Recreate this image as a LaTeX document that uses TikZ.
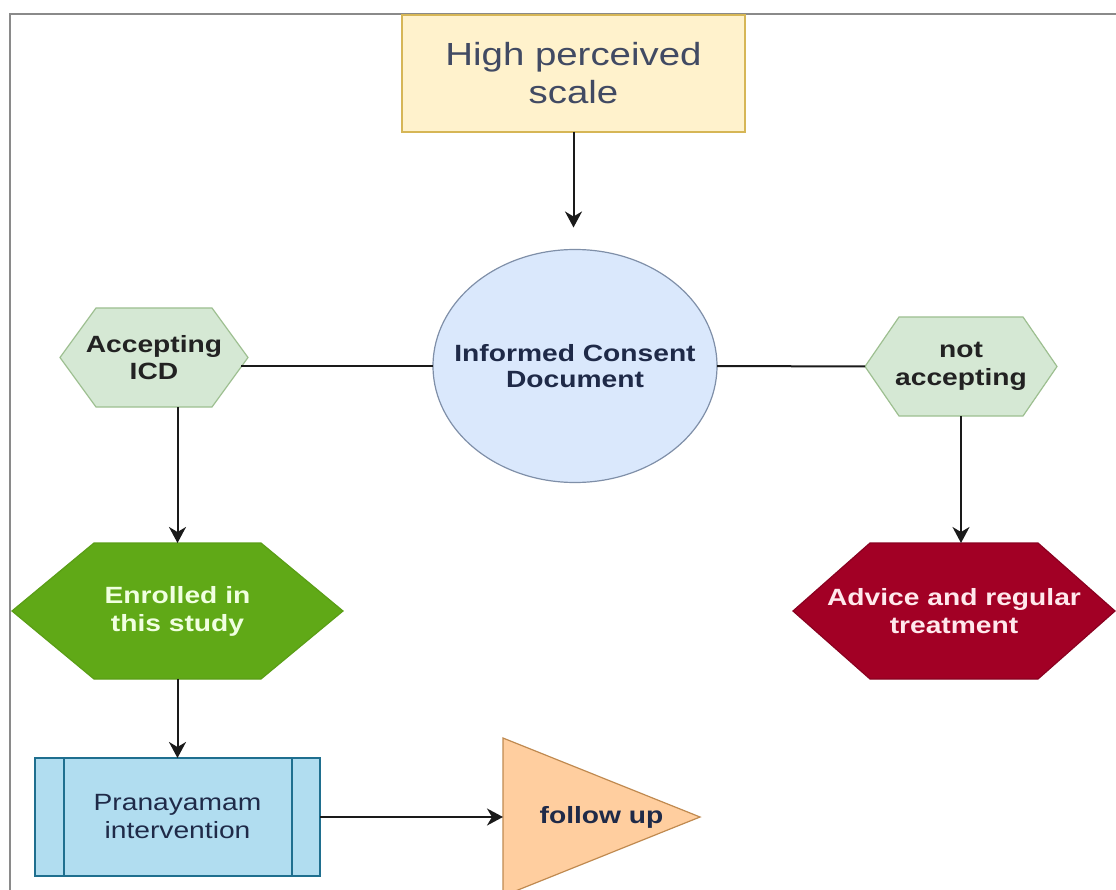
\documentclass[tikz,border=0pt]{standalone}
\usepackage{fontspec}
\setmainfont{Liberation Sans}[FakeStretch=1.2]
\usetikzlibrary{shapes.geometric,arrows.meta,backgrounds,calc}
\definecolor{framec}{HTML}{8A8A8A}
\definecolor{yelfill}{HTML}{FFF2CC}
\definecolor{yeldraw}{HTML}{D6B656}
\definecolor{bluefill}{HTML}{DAE8FC}
\definecolor{bluedraw}{HTML}{7F8FA8}
\definecolor{lgfill}{HTML}{D5E8D4}
\definecolor{lgdraw}{HTML}{9DBF90}
\definecolor{gfill}{HTML}{60A917}
\definecolor{gdraw}{HTML}{5A9E16}
\definecolor{gtext}{HTML}{F0FFE0}
\definecolor{rfill}{HTML}{A20025}
\definecolor{rdraw}{HTML}{8A0020}
\definecolor{rtext}{HTML}{FFE8EC}
\definecolor{pfill}{HTML}{B1DDF0}
\definecolor{pdraw}{HTML}{1F6F8F}
\definecolor{ofill}{HTML}{FFCE9F}
\definecolor{odraw}{HTML}{C08A50}
\definecolor{txtnavy}{HTML}{1F2A48}
\definecolor{txtdark}{HTML}{222222}
\definecolor{arrowc}{HTML}{1A1A1A}
\tikzset{
  box/.style={inner sep=0pt, outer sep=0pt, align=center,
    font=\fontsize{23.5}{27.5}\selectfont, text=txtnavy},
  arr/.style={line width=2pt, draw=arrowc,
    -{Stealth[length=16pt,width=17pt,inset=5pt]}},
  link/.style={line width=2pt, draw=arrowc},
  shapeline/.style={line width=1.2pt},
}
\newcommand\myhex[3]{%
  \path[#3] (#1.west) -- ([xshift=#2]#1.north west) -- ([xshift=-#2]#1.north east)
    -- (#1.east) -- ([xshift=-#2]#1.south east) -- ([xshift=#2]#1.south west) -- cycle;}
\begin{document}
\begin{tikzpicture}[x=1pt,y=-1pt]
\useasboundingbox (0,0) rectangle (1116,890);
\clip (0,0) rectangle (1116,890);
% frame
\draw[framec, line width=2pt] (10,890) -- (10,14) -- (1116,14);

% nodes
\node[box, draw=yeldraw, fill=yelfill, shapeline, minimum width=343pt, minimum height=117pt,
  font=\fontsize{32}{38}\selectfont, text=txtnavy!85!white] (top) at (573.5,73.5)
  {High perceived\\scale};
\node[box, minimum width=284pt, minimum height=233pt,
  font=\fontsize{23.5}{25.5}\selectfont\bfseries] (ice) at (575,366)
  {Informed Consent\\Document};
\node[box, minimum width=188pt, minimum height=99pt, font=\fontsize{23.5}{27.5}\selectfont\bfseries,
  text=txtdark] (icd) at (154,357.5) {Accepting\\ICD};
\node[box, minimum width=192pt, minimum height=99pt, font=\fontsize{23.5}{27.5}\selectfont\bfseries,
  text=txtdark] (nac) at (961,366.5) {not\\accepting};
\node[box, minimum width=331pt, minimum height=136pt, font=\fontsize{23.5}{28}\selectfont\bfseries,
  text=gtext] (enr) at (177.5,611) {Enrolled in\\this study};
\node[box, minimum width=322pt, minimum height=136pt, font=\fontsize{23.5}{28}\selectfont\bfseries,
  text=rtext] (adv) at (954,611) {Advice and regular\\treatment};
\node[box, draw=pdraw, fill=pfill, shapeline, minimum width=285pt, minimum height=118pt,
  font=\fontsize{23.5}{28}\selectfont] (pra) at (177.5,817) {Pranayamam\\intervention};
\draw[pdraw, shapeline] ([xshift=29pt]pra.north west) -- ([xshift=29pt]pra.south west);
\draw[pdraw, shapeline] ([xshift=-28pt]pra.north east) -- ([xshift=-28pt]pra.south east);
\node[box, minimum width=197pt, minimum height=158pt, font=\fontsize{23.5}{28}\selectfont\bfseries,
  text=txtnavy] (fol) at (601.5,817) {follow up};

% shapes behind the texts
\begin{scope}[on background layer]
  \path[draw=bluedraw, fill=bluefill, shapeline] (ice.center) ellipse [x radius=142pt, y radius=116.5pt];
  \myhex{icd}{36pt}{draw=lgdraw, fill=lgfill, shapeline}
  \myhex{nac}{34pt}{draw=lgdraw, fill=lgfill, shapeline}
  \myhex{enr}{82pt}{draw=gdraw, fill=gfill, shapeline}
  \myhex{adv}{77pt}{draw=rdraw, fill=rfill, shapeline}
  \path[draw=odraw, fill=ofill, shapeline] (fol.north west) -- (fol.east) -- (fol.south west) -- cycle;
\end{scope}

% connectors
\draw[arr] (top.south) -- ([yshift=22pt]top.south |- ice.north);
\draw[link] ([xshift=-7pt,yshift=-8.5pt]icd.east) -- (ice.west);
\draw[link] (ice.east) -- (nac.west);
\draw[arr] (enr.north |- icd.south) -- (enr.north);
\draw[arr] (nac.south) -- (nac.south |- adv.north);
\draw[arr] (enr.south) -- (pra.north);
\draw[arr] (pra.east) -- (fol.west);
\end{tikzpicture}
\end{document}
